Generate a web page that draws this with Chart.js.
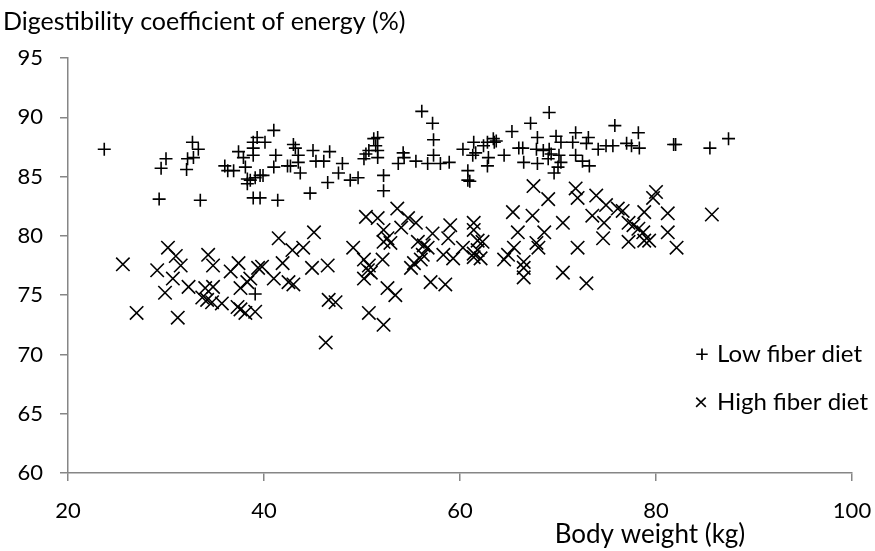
<!DOCTYPE html>
<html>
<head>
<meta charset="utf-8">
<script src="https://cdn.jsdelivr.net/npm/chart.js@4.4.0/dist/chart.umd.min.js"></script>
<style>
  html, body { margin: 0; padding: 0; background: #fff; }
  #wrap { width: 875px; height: 551px; position: relative; }
</style>
</head>
<body>
<div id="wrap"><canvas id="c" width="875" height="551"></canvas></div>
<script>
const yAxisTitle = "Digestibility coefficient of energy (%)";
const xAxisTitle = "Body weight (kg)";
const seriesNames = ["Low fiber diet", "High fiber diet"];
const xTicks = [20, 40, 60, 80, 100];
const yTicks = [60, 65, 70, 75, 80, 85, 90, 95];

const lowX = [23.7,30.0,29.5,32.7,33.3,32.2,32.8,32.1,29.3,33.5,36.0,36.3,36.9,37.4,37.9,38.9,38.9,39.3,40.1,38.9,41.0,41.2,41.0,38.1,38.3,38.6,38.3,39.1,39.6,39.9,38.9,39.6,41.4,42.4,42.7,43.0,43.2,43.5,43.5,43.7,45.0,45.3,46.1,46.7,48.0,47.6,46.5,44.7,48.8,49.6,50.2,50.4,50.7,51.2,51.6,51.4,51.6,51.6,52.2,52.2,54.2,54.3,53.7,55.5,56.1,57.2,57.3,57.3,56.7,58.0,58.9,60.3,60.8,60.8,69.1,67.2,65.3,75.8,78.2,61.4,61.6,61.3,62.4,62.8,63.4,63.5,63.7,62.9,62.8,61.0,64.5,66.0,66.4,67.9,67.8,68.5,69.1,69.3,66.5,67.9,69.0,69.8,70.3,70.1,70.3,70.0,69.6,71.8,71.5,73.1,72.9,71.8,72.5,73.2,74.1,74.9,75.6,77.0,77.5,78.3,81.8,82.0,85.5,87.4,39.1];
const lowY = [87.3,86.5,85.7,87.9,87.3,86.5,86.6,85.6,83.1,83.0,85.9,85.5,85.5,87.1,86.6,87.9,87.4,88.3,87.9,86.8,88.9,86.8,85.8,85.8,84.8,84.7,84.4,84.9,85.1,85.1,83.2,83.2,83.0,85.9,85.9,87.7,87.4,86.8,86.2,85.3,87.2,86.3,86.3,87.1,86.1,85.3,84.5,83.6,84.7,84.9,86.5,86.9,87.2,88.2,88.3,87.6,87.2,86.6,85.1,83.8,87.0,86.6,86.1,86.3,90.5,89.5,88.1,86.8,86.1,86.1,86.2,87.3,85.5,84.7,90.4,89.5,88.8,89.3,88.7,87.9,87.0,86.8,87.6,87.9,88.2,87.9,88.0,86.6,85.9,84.6,86.8,87.4,87.4,88.3,87.3,87.2,87.3,86.9,86.2,86.1,86.5,88.4,87.9,86.8,86.2,85.8,85.3,88.7,87.9,88.3,87.8,86.8,86.3,85.9,87.3,87.6,87.6,87.8,87.6,87.4,87.7,87.7,87.4,88.2,75.1];

const highX = [25.6,27.0,30.2,31.0,31.5,29.1,30.7,29.9,31.2,32.3,34.3,34.8,34.0,33.7,34.2,34.8,34.7,35.7,36.6,37.4,37.3,37.6,38.1,39.1,37.6,38.3,38.6,39.4,39.8,41.5,41.9,41.0,42.5,42.9,44.0,45.1,44.9,46.5,43.0,46.6,47.3,46.3,49.1,50.4,51.6,53.6,54.7,55.5,52.2,52.6,52.9,52.2,50.2,50.7,50.6,50.2,50.9,52.1,52.6,53.4,50.7,52.2,54.0,55.7,56.3,56.7,56.2,56.0,55.3,55.0,57.2,57.0,58.5,59.0,58.8,58.3,59.3,60.3,61.4,61.4,61.8,61.8,61.4,62.3,62.1,61.4,67.5,69.0,65.4,67.4,65.9,68.6,70.5,67.8,68.0,65.5,64.9,64.5,66.5,66.5,66.5,72.0,70.5,72.9,71.8,72.0,73.9,74.9,73.5,74.7,74.6,76.1,76.6,77.2,77.7,78.2,78.7,77.2,78.8,79.3,78.8,80.0,79.7,81.2,81.2,82.1,85.7];
const highY = [77.6,73.5,79.0,78.3,77.5,77.1,76.4,75.2,73.1,75.7,78.4,77.5,75.6,74.8,74.6,75.7,74.4,74.3,77.0,77.7,74.0,73.8,73.5,73.6,75.6,76.1,76.4,77.3,77.4,79.8,77.7,76.4,76.1,78.8,79.0,80.3,77.3,77.5,75.9,74.6,74.4,71.0,79.0,81.6,81.5,82.3,81.5,81.1,80.5,79.8,79.4,79.5,78.0,77.5,77.1,76.4,76.9,78.0,75.6,75.0,73.5,72.5,80.7,79.5,79.2,79.0,78.4,78.0,77.7,77.3,80.2,76.1,75.9,80.9,79.8,78.4,78.1,79.0,81.1,80.5,79.6,78.8,78.2,79.5,78.1,78.5,84.2,83.1,82.0,81.7,80.3,80.3,81.1,79.4,79.0,79.0,78.4,78.0,77.8,77.3,76.5,79.0,76.9,76.0,84.0,83.2,83.4,82.6,81.7,81.1,79.8,82.3,82.1,81.1,80.9,80.6,80.3,79.5,79.6,79.6,82.0,83.7,83.2,81.9,80.3,79.0,81.8];

const FONT = "Lato, 'Open Sans', sans-serif";
const AXIS = '#868686';

const toPts = (xs, ys) => xs.map((x, i) => ({ x: x, y: ys[i] }));

const overlay = {
  id: 'overlay',
  afterDraw(chart) {
    const ctx = chart.ctx;
    ctx.save();
    ctx.fillStyle = '#000';
    ctx.textBaseline = 'alphabetic';
    ctx.font = '25px ' + FONT;
    ctx.textAlign = 'left';
    ctx.fillText(yAxisTitle, 3, 30);
    ctx.textAlign = 'center';
    ctx.font = '26px ' + FONT;
    ctx.fillText(xAxisTitle, 650, 543);
    // legend
    ctx.font = '24px ' + FONT;
    ctx.textAlign = 'left';
    ctx.fillText('+', 695, 362);
    ctx.fillText(seriesNames[0], 717, 362);
    ctx.fillText('\u00D7', 694, 410);
    ctx.fillText(seriesNames[1], 717, 410);
    ctx.restore();
  }
};

new Chart(document.getElementById('c'), {
  type: 'scatter',
  data: {
    datasets: [
      {
        label: seriesNames[0],
        data: toPts(lowX, lowY),
        pointStyle: 'cross',
        pointRadius: 6.5,
        pointHoverRadius: 6.5,
        borderColor: '#000',
        backgroundColor: '#000',
        pointBorderWidth: 1.6
      },
      {
        label: seriesNames[1],
        data: toPts(highX, highY),
        pointStyle: 'crossRot',
        pointRadius: 9.5,
        pointHoverRadius: 9.5,
        borderColor: '#000',
        backgroundColor: '#000',
        pointBorderWidth: 1.6
      }
    ]
  },
  options: {
    responsive: false,
    animation: false,
    events: [],
    layout: { padding: { top: 58, right: 23, left: 0, bottom: 0 } },
    plugins: {
      legend: { display: false },
      tooltip: { enabled: false },
      title: { display: false }
    },
    scales: {
      x: {
        type: 'linear',
        min: 20, max: 100,
        afterBuildTicks(s) { s.ticks = xTicks.map(v => ({ value: v })); },
        afterFit(s) { s.height = 78; s.paddingLeft = 0; s.paddingRight = 0; },
        border: { color: AXIS, width: 1.5 },
        grid: { drawOnChartArea: false, drawTicks: true, tickLength: 8, color: AXIS, lineWidth: 1.5 },
        ticks: { color: '#000', font: { family: FONT, size: 22 }, padding: 17, maxRotation: 0 }
      },
      y: {
        type: 'linear',
        min: 60, max: 95,
        afterBuildTicks(s) { s.ticks = yTicks.map(v => ({ value: v })); },
        afterFit(s) { s.width = 68; s.paddingTop = 0; s.paddingBottom = 0; },
        border: { color: AXIS, width: 1.5 },
        grid: { drawOnChartArea: false, drawTicks: true, tickLength: 8, color: AXIS, lineWidth: 1.5 },
        ticks: { color: '#000', font: { family: FONT, size: 22 }, padding: 17 }
      }
    }
  },
  plugins: [overlay]
});
</script>
</body>
</html>
